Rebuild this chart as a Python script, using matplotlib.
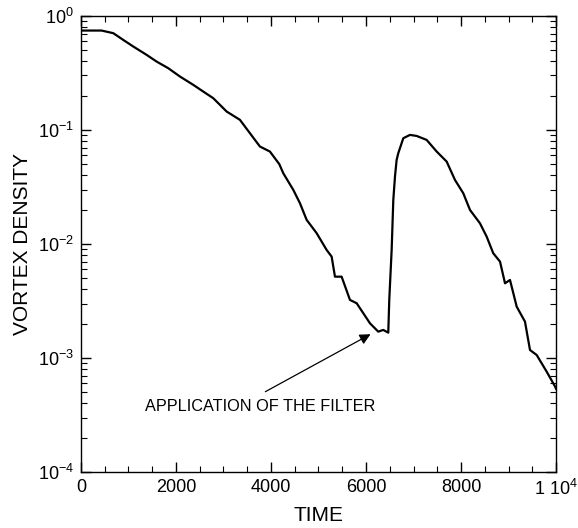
import numpy as np
import matplotlib.pyplot as plt
from matplotlib.ticker import MultipleLocator, LogLocator, FuncFormatter, NullFormatter

plt.rcParams['font.family'] = ['Liberation Sans', 'DejaVu Sans']
plt.rcParams['mathtext.fontset'] = 'custom'
plt.rcParams['mathtext.rm'] = 'Liberation Sans'

# vortex density vs time (log10 values)
time = [0, 84, 435, 681, 891, 1102, 1382, 1593, 1838, 2084, 2364, 2575, 2785, 3067,
        3347, 3557, 3768, 3978, 4175, 4259, 4470, 4610, 4751, 4962, 5172, 5277, 5347,
        5487, 5663, 5804, 6084, 6258, 6363, 6469, 6490, 6540, 6575, 6610, 6645, 6680,
        6785, 6926, 7066, 7277, 7488, 7698, 7873, 8047, 8189, 8399, 8540, 8679, 8821,
        8926, 9031, 9172, 9346, 9452, 9593, 9803, 9979, 10000]
log_density = [-0.129, -0.129, -0.129, -0.152, -0.211, -0.269, -0.342, -0.401, -0.459,
               -0.532, -0.605, -0.664, -0.722, -0.839, -0.912, -1.029, -1.146, -1.19,
               -1.30, -1.38, -1.526, -1.643, -1.789, -1.906, -2.053, -2.111, -2.287,
               -2.287, -2.491, -2.52, -2.696, -2.769, -2.754, -2.778, -2.49, -2.053,
               -1.614, -1.41, -1.263, -1.204, -1.073, -1.044, -1.053, -1.088, -1.19,
               -1.278, -1.439, -1.555, -1.702, -1.819, -1.936, -2.082, -2.155, -2.345,
               -2.316, -2.55, -2.681, -2.93, -2.974, -3.12, -3.25, -3.27]
density = [10 ** v for v in log_density]

fig = plt.figure(figsize=(5.78, 5.28), dpi=100)
ax = fig.add_axes([0.140, 0.106, 0.822, 0.864])
ax.plot(time, density, color='black', lw=1.6)
ax.set_yscale('log')
ax.set_xlim(0, 10000)
ax.set_ylim(1e-4, 1)

ax.xaxis.set_major_locator(MultipleLocator(2000))
ax.xaxis.set_minor_locator(MultipleLocator(500))
ax.xaxis.set_major_formatter(FuncFormatter(
    lambda v, p: r'1 10$^{4}$' if v == 10000 else '%d' % v))
ax.yaxis.set_major_locator(LogLocator(base=10, numticks=10))
ax.yaxis.set_minor_locator(LogLocator(base=10, subs=np.arange(2, 10), numticks=10))
ax.yaxis.set_minor_formatter(NullFormatter())
ax.yaxis.set_major_formatter(FuncFormatter(
    lambda v, p: r'10$^{%d}$' % round(np.log10(v))))

ax.tick_params(which='both', direction='in', top=True, right=True, labelsize=13, pad=5)
ax.tick_params(which='major', length=7, width=1)
ax.tick_params(which='minor', length=4, width=0.8)
for s in ax.spines.values():
    s.set_linewidth(1)

ax.set_xlabel('TIME', fontsize=15, labelpad=5)
ax.set_ylabel('VORTEX DENSITY', fontsize=15, labelpad=4)

ax.annotate('', xy=(6147, 1.66e-3), xytext=(3831, 4.93e-4),
            arrowprops=dict(arrowstyle='-|>', color='black', lw=0.9,
                            mutation_scale=16))
ax.text(1347, 3.72e-4, 'APPLICATION OF THE FILTER', fontsize=11.7, va='center', ha='left')

plt.savefig('out.png', dpi=100)
